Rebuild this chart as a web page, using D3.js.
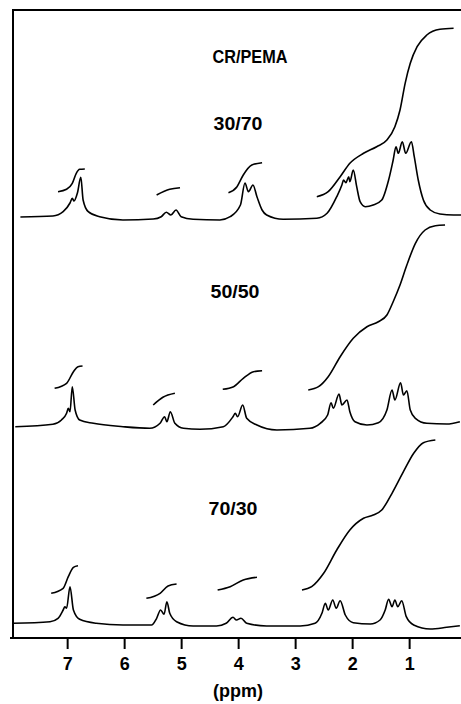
<!DOCTYPE html>
<html><head><meta charset="utf-8">
<script src="https://cdn.jsdelivr.net/npm/d3@7/dist/d3.min.js"></script>
<style>
html,body{margin:0;padding:0;background:#fff;}
svg{display:block;}
text{font-family:"Liberation Sans",Arial,"DejaVu Sans",sans-serif;font-weight:bold;fill:#000;}
</style></head>
<body>
<script>
// ---------- data ----------
const title = "CR/PEMA";
const ratios = ["30/70", "50/50", "70/30"];
const xTickValues = [7, 6, 5, 4, 3, 2, 1];
const xAxisLabel = "(ppm)";

// 30/70 spectrum
const s1Ppm = [7.82,7.25,7.07,6.95,6.91,6.88,6.82,6.76,6.72,6.63,6.43,6.02,5.49,5.35,5.26,5.18,5.09,5.00,4.79,4.32,4.14,3.96,3.88,3.82,3.74,3.67,3.58,3.50,3.21,2.62,2.44,2.27,2.18,2.15,2.11,2.06,2.04,1.98,1.92,1.86,1.77,1.63,1.48,1.36,1.28,1.23,1.19,1.12,1.06,0.96,0.91,0.84,0.75,0.63,0.46,0.22,0.09];
const s1Int = [0,1,5.3,14,18.7,16,24,39.7,17,5.3,0.3,-3,-2,0.3,4.7,2,7,0.3,-2.3,-3,0.3,12,34,25.3,32,20.3,7,2,-2.3,-1.3,3.7,20.3,32,37,34.3,40.3,35.3,47,30.3,15.3,10.3,12,17,37,57,70.3,63.7,75.3,63.7,75.3,60.3,37,17,7,3,2,2];
// 50/50 spectrum
const s2Ppm = [7.91,7.25,7.10,7.01,6.98,6.95,6.91,6.86,6.78,6.54,6.02,5.55,5.37,5.29,5.25,5.19,5.11,4.96,4.67,4.26,4.09,4.05,4.01,3.92,3.85,3.67,3.32,2.74,2.56,2.43,2.37,2.33,2.23,2.18,2.09,2.04,1.95,1.74,1.54,1.39,1.30,1.25,1.15,1.10,1.04,0.98,0.89,0.69,0.34,0.11];
const s2Int = [0.3,2.7,7,13.7,18.7,15.3,40.3,17,7,3.7,0.3,-1.3,3.7,10.3,5.3,15.3,3.7,-1.3,-2.3,0.3,10.3,13.7,10.3,22,8.7,2,-3,-1.3,3.7,12,24.3,18.7,33,22,27,15.3,5.3,2,4.3,17,37,27,44.3,32,36.3,17,8.7,3.7,3,5.3];
// 70/30 spectrum
const s3Ppm = [7.95,7.30,7.16,7.07,7.04,7.01,6.95,6.89,6.78,6.49,6.02,5.52,5.43,5.36,5.30,5.25,5.20,5.08,4.79,4.38,4.21,4.09,4.03,3.95,3.85,3.50,2.91,2.65,2.53,2.47,2.42,2.34,2.28,2.21,2.12,1.98,1.68,1.51,1.42,1.36,1.30,1.25,1.20,1.13,1.05,0.92,0.63,0.34,0.11];
const s3Int = [0.7,2.3,5.7,14,17.3,15.7,37.3,14,4.7,0.7,-1,-1,5.7,14,9.7,22.3,10.7,2.3,-2,-2,0.7,6.7,4,5.7,0.7,-2,-2,0.7,10.7,20.7,14,24,15.7,23.3,9,1.3,0,4,14,24.7,17.3,24,17.3,23.3,7.3,-1,-5,-3.3,-1.7];

// integral traces (ppm, height)
const i1Ppm = [[7.16,7.01,6.91,6.84,6.78,6.69],[5.43,5.20,5.02],[4.17,4.02,3.91,3.76,3.58],[2.62,2.42,2.21,2.04,1.80,1.57,1.39,1.25,1.16,1.07,0.98,0.86,0.69,0.46,0.22]];
const i1Val = [[25.3,27.7,33.7,43.7,47.7,48],[22,27.7,29.3],[24.3,30.3,42,52,54.3],[20.3,25.3,40.3,53.7,63.7,70.3,77,90.3,107,133.7,153.7,170.3,182,187.7,188.7]];
const i2Ppm = [[7.22,7.01,6.89,6.81,6.73],[5.49,5.32,5.11],[4.27,4.08,3.91,3.73,3.58],[2.77,2.59,2.42,2.21,1.98,1.74,1.54,1.39,1.28,1.16,1.04,0.89,0.72,0.54,0.37]];
const i2Val = [[38.7,43.7,55.3,60.3,61],[22,29.7,33.7],[37.7,40.3,48.7,55.3,56.3],[37,40.3,50.3,70.3,88.7,100.3,105.3,112,125.3,142,162,183.7,197,201.3,202]];
const i3Ppm = [[7.28,7.07,6.98,6.89,6.81],[5.61,5.37,5.23,5.08],[4.36,4.14,3.91,3.67],[2.88,2.71,2.50,2.27,2.04,1.80,1.63,1.48,1.30,1.10,0.92,0.75,0.54]];
const i3Val = [[30.7,35.7,47.3,56.7,58.3],[25.7,30.7,38,40],[34,37.3,44,46.7],[34,37.3,50.7,74,94,105.7,109,114,130.7,152.3,170.7,181.3,184]];

// ---------- layout ----------
const W = 461, H = 704;
const frameLeft = 13, frameTop = 10, axisY = 638;
const baselines = [217, 427, 624];
const ratioLabelY = [130, 298, 515];
const ratioLabelX = [238, 235, 233];

const svg = d3.select("body").append("svg").attr("width", W).attr("height", H);

const x = d3.scaleLinear().domain([7.95, 0.09]).range([13, 461]);
const y = d3.scaleLinear().domain([0, 250]).range([0, -250]);

// frame
svg.append("line").attr("x1", frameLeft).attr("x2", W).attr("y1", frameTop).attr("y2", frameTop)
  .attr("stroke", "#000").attr("stroke-width", 2);
svg.append("line").attr("x1", frameLeft).attr("x2", frameLeft).attr("y1", frameTop - 1).attr("y2", axisY + 1)
  .attr("stroke", "#000").attr("stroke-width", 2);

// x axis
const axis = d3.axisBottom(x).tickValues(xTickValues).tickFormat(d3.format("d")).tickSize(11).tickPadding(8);
const gAxis = svg.append("g").attr("transform", `translate(0,${axisY})`).call(axis);
gAxis.select(".domain").remove();
svg.append("line").attr("x1", 10).attr("x2", W).attr("y1", axisY).attr("y2", axisY)
  .attr("stroke", "#000").attr("stroke-width", 2);
gAxis.selectAll(".tick line").attr("stroke", "#000").attr("stroke-width", 2);
gAxis.selectAll(".tick text").attr("font-size", 18).attr("font-weight", "bold")
  .attr("font-family", '"Liberation Sans",Arial,sans-serif').attr("fill", "#000");

svg.append("text").attr("x", 238).attr("y", 697).attr("text-anchor", "middle")
  .attr("font-size", 18).text(xAxisLabel);

// title and ratio labels
svg.append("text").attr("x", 250).attr("y", 63).attr("text-anchor", "middle").attr("font-size", 19)
  .attr("textLength", 75).attr("lengthAdjust", "spacingAndGlyphs").text(title);
ratios.forEach((r, i) => {
  svg.append("text").attr("x", ratioLabelX[i]).attr("y", ratioLabelY[i])
    .attr("text-anchor", "middle").attr("font-size", 19)
    .attr("textLength", 49).attr("lengthAdjust", "spacingAndGlyphs").text(r);
});

// spectra
const line = d3.line().x(d => x(d[0])).y(d => y(d[1])).curve(d3.curveMonotoneX);
const spectra = [[s1Ppm, s1Int], [s2Ppm, s2Int], [s3Ppm, s3Int]];
const integrals = [[i1Ppm, i1Val], [i2Ppm, i2Val], [i3Ppm, i3Val]];

spectra.forEach(([p, v], i) => {
  const g = svg.append("g").attr("transform", `translate(0,${baselines[i]})`);
  g.append("path").datum(p.map((d, k) => [d, v[k]]))
    .attr("d", line).attr("fill", "none").attr("stroke", "#000").attr("stroke-width", 1.6)
    .attr("stroke-linejoin", "round");
  const [ip, iv] = integrals[i];
  ip.forEach((seg, j) => {
    g.append("path").datum(seg.map((d, k) => [d, iv[j][k]]))
      .attr("d", line).attr("fill", "none").attr("stroke", "#000").attr("stroke-width", 1.6);
  });
});
</script>
</body></html>
